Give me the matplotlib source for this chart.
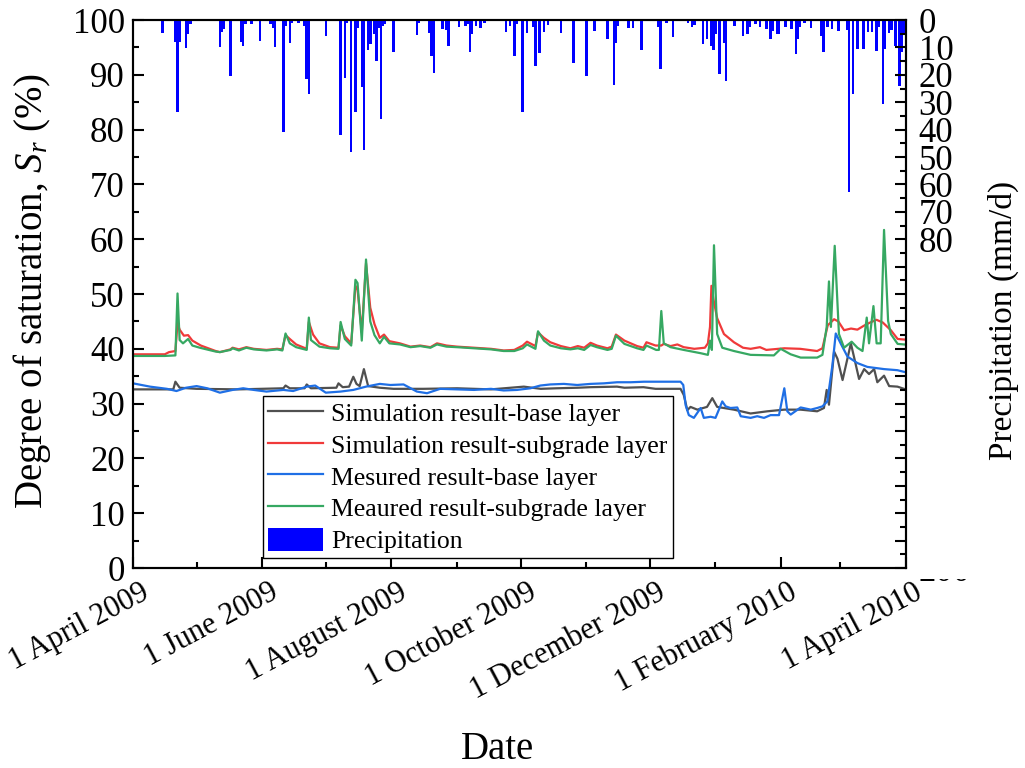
import numpy as np
import matplotlib.pyplot as plt
import matplotlib.dates as mdates
from matplotlib.ticker import MultipleLocator, FixedLocator, FixedFormatter
from matplotlib.patches import Patch, Rectangle
from matplotlib.transforms import ScaledTranslation

plt.rcParams['font.family'] = ['Liberation Serif', 'DejaVu Serif']
plt.rcParams['mathtext.fontset'] = 'custom'
plt.rcParams['mathtext.rm'] = 'Liberation Serif'
plt.rcParams['mathtext.it'] = 'Liberation Serif:italic'

# day numbers are counted from 1 April 2009
start = np.datetime64('2009-04-01')
end = np.datetime64('2010-04-01')

sim_base_day = [0, 19, 20, 22, 30, 50, 71, 72, 74, 81, 82, 84, 96, 97, 99, 102, 104, 105.5, 107, 109, 111,
                116.5, 123, 137, 153, 169, 184.5, 192.5, 200, 210, 216, 228.5, 232, 241, 246.7, 258.5, 260,
                261.7, 263.2, 266.4, 271, 273.5, 275.8, 283.7, 291.6, 299.5, 307.4, 315.2, 323, 326.2, 327.5,
                328.6, 331, 332.6, 335, 337.3, 338.9, 340.4, 342.8, 345.2, 347.5, 349.9, 351.4, 354.6, 357,
                360.9, 364]
sim_base = [32.6, 32.6, 34.0, 32.9, 32.7, 32.6, 32.8, 33.3, 32.8, 32.8, 33.5, 32.8, 32.9, 33.7, 33.0, 33.1,
            34.9, 33.6, 33.2, 36.3, 33.2, 32.9, 32.7, 32.7, 32.8, 32.6, 33.1, 32.7, 32.8, 32.9, 33.0, 33.1,
            32.9, 33.0, 32.7, 32.7, 31.6, 28.8, 29.4, 28.9, 29.4, 31.0, 29.4, 28.9, 28.2, 28.6, 28.9, 28.9,
            28.6, 29.2, 32.5, 29.8, 39.5, 38.2, 34.3, 38.2, 41.0, 38.5, 34.5, 36.3, 35.4, 36.3, 33.9, 35.1,
            33.2, 33.1, 32.7]

sim_sub_day = [0, 15, 17, 20, 21, 22, 24, 26, 28, 32, 39, 41, 46, 47, 50, 53.5, 57, 63, 68, 70.5, 72, 74, 77,
               82, 83, 85, 88, 93, 97, 98, 100, 103, 105, 106, 108, 110, 112, 114, 116.5, 118.5, 121, 126,
               131, 135.6, 140.4, 143.5, 148, 153, 161, 169, 175, 180, 184, 186, 190, 191.2, 194, 197, 202,
               206.5, 210, 213, 216, 219, 224, 226, 228, 232, 238, 241, 242.4, 246.7, 249.4, 250.6, 253.8,
               257, 260, 265, 270, 271.4, 272.4, 273.1, 274.3, 275.8, 279, 283.7, 288, 291.6, 296, 299,
               307.5, 315, 323, 325.5, 328, 331, 333, 335.7, 339, 342, 345, 348, 351, 354, 357.8, 361, 364]
sim_sub = [39.0, 39.0, 39.4, 39.6, 44.7, 43.5, 42.4, 42.5, 41.5, 40.6, 39.6, 39.4, 39.9, 40.2, 39.9, 40.3,
           40.0, 39.8, 40.0, 39.9, 42.5, 41.8, 40.8, 40.0, 44.9, 42.6, 41.0, 40.3, 40.2, 44.3, 42.3, 41.0,
           51.5, 50.8, 43.0, 55.6, 47.5, 44.5, 42.0, 42.6, 41.4, 41.0, 40.4, 40.6, 40.3, 41.0, 40.6, 40.4,
           40.2, 40.0, 39.7, 39.8, 40.6, 41.3, 40.5, 43.0, 42.0, 41.2, 40.5, 40.1, 40.5, 40.2, 41.1, 40.6,
           40.1, 40.4, 42.6, 41.5, 40.5, 40.2, 41.2, 40.6, 40.6, 40.9, 40.5, 40.8, 40.3, 40.0, 40.2, 41.0,
           44.0, 51.5, 48.5, 45.6, 42.7, 41.2, 40.2, 40.0, 40.3, 39.8, 40.1, 40.0, 39.6, 40.1, 44.3, 45.4,
           45.0, 43.4, 43.7, 43.5, 44.2, 44.8, 45.3, 44.8, 43.4, 41.8, 41.7]

meas_base_day = [0, 8, 16, 20.5, 25, 30, 35, 41, 47, 52, 57, 63, 71, 75.6, 82, 86, 91, 98, 104, 110, 116.5,
                 121.5, 127.7, 134, 138.8, 145, 153, 161, 169, 175, 181.3, 187.6, 192.3, 197, 203.4, 209.7,
                 216, 222.3, 228.6, 235, 241.2, 246.7, 258.5, 259.8, 260.9, 262.4, 264.8, 268, 269.5, 272.7,
                 275, 278.2, 279.8, 282.1, 285.3, 286.9, 291.6, 294.7, 297.9, 301, 305, 307.5, 308.9, 310.5,
                 315.2, 320, 323, 325.5, 327.8, 330.2, 331.8, 334.1, 337.3, 342, 346.7, 354.6, 360.9, 364]
meas_base = [33.7, 33.1, 32.7, 32.3, 32.9, 33.2, 32.8, 32.0, 32.5, 32.8, 32.5, 32.2, 32.5, 32.3, 33.1, 33.3,
             32.0, 32.2, 32.5, 33.1, 33.6, 33.4, 33.5, 32.2, 31.9, 32.7, 32.6, 32.5, 32.7, 32.4, 32.5, 32.8,
             33.3, 33.5, 33.6, 33.4, 33.6, 33.7, 33.9, 33.9, 34.0, 34.0, 34.0, 33.4, 29.7, 27.9, 27.4, 29.2,
             27.4, 27.6, 27.4, 30.4, 29.5, 29.2, 29.3, 27.7, 27.4, 27.7, 27.4, 27.9, 27.9, 32.8, 28.6, 28.0,
             29.3, 28.9, 29.2, 29.5, 30.4, 37.0, 42.8, 41.0, 38.6, 37.4, 36.7, 36.3, 36.1, 35.8]

meas_sub_day = [0, 15, 20, 21, 22, 23.6, 26, 28, 31.5, 39, 41, 46, 47, 50, 53.5, 57, 63, 68, 70.5, 72, 74,
                77, 82, 83, 84, 88, 93, 97, 98, 100, 103, 105, 106, 108, 110, 112, 114, 116.5, 118.5, 121,
                126, 131, 135.6, 140.4, 143.5, 148, 153, 161, 169, 175, 180, 184, 186, 190, 191.2, 194, 197,
                202, 206.5, 210, 213, 216, 219, 224, 226, 228, 232, 238, 241, 242.4, 247, 248.3, 249.4,
                250.6, 253.8, 260, 268, 271.4, 272.4, 273.3, 274.3, 275.8, 278.2, 283.7, 291.6, 302.6,
                305.8, 310.5, 315.2, 323, 325.5, 327.5, 328.6, 329.5, 331.3, 333.3, 335.7, 339.3, 342,
                344.4, 346.4, 347.5, 349.6, 351.1, 353, 354.6, 356.5, 357.8, 361, 364]
meas_sub = [38.7, 38.7, 38.8, 50.1, 41.6, 41.0, 41.8, 40.6, 40.2, 39.5, 39.4, 39.8, 40.1, 39.7, 40.2, 39.9,
            39.7, 39.9, 39.7, 42.8, 41.0, 40.3, 39.8, 45.7, 41.6, 40.4, 40.1, 40.0, 44.9, 41.8, 40.6, 52.6,
            52.0, 41.5, 56.3, 45.0, 42.5, 41.0, 42.2, 41.0, 40.8, 40.3, 40.5, 40.2, 40.8, 40.4, 40.3, 40.1,
            39.9, 39.6, 39.6, 40.1, 40.8, 40.0, 43.2, 41.5, 40.6, 40.1, 39.9, 40.1, 39.8, 40.7, 40.3, 39.8,
            40.0, 42.4, 40.9, 40.1, 39.8, 40.6, 39.8, 39.8, 46.9, 41.0, 40.3, 39.8, 39.2, 38.9, 41.5, 39.8,
            58.9, 42.7, 40.2, 39.6, 38.9, 38.8, 40.0, 39.0, 38.4, 38.4, 38.9, 44.0, 52.3, 44.0, 58.8, 42.7,
            40.2, 41.3, 40.2, 39.6, 45.7, 41.0, 47.8, 41.0, 41.0, 61.7, 45.1, 42.7, 40.9, 40.8]

rain_day = [14, 20, 21, 22, 25, 26, 27, 41, 42, 43, 46, 51, 52, 53, 56, 60, 65, 66, 67, 71, 72, 74, 75, 78,
            81, 82, 83, 91, 98, 100, 101, 103, 105, 106, 108, 109, 111, 112, 114, 115, 116, 117, 118, 119,
            123, 134, 135, 140, 141, 142, 146, 148, 149, 154, 157, 158, 159, 160, 162, 164, 166, 176, 178,
            180, 181, 184, 186, 189, 190, 192, 194, 196, 202, 208, 214, 218, 224, 227, 228, 229, 234, 236,
            240, 248, 249, 252, 255, 262, 264, 265, 269, 271, 273, 274, 275, 277, 279, 280, 284, 288, 290,
            291, 294, 296, 299, 301, 302, 304, 305, 308, 311, 313, 314, 315, 317, 320, 325, 326, 328, 330,
            333, 337, 338, 340, 342, 345, 347, 349, 351, 352, 354, 355, 357, 358, 360, 362, 363, 364]
rain_mm = [4.9, 8, 33.7, 8, 10.3, 5, 1.5, 10, 4.5, 3.3, 20.3, 8, 9.4, 1.5, 1.5, 7.6, 1.5, 3, 10, 40.8, 2,
           8.4, 1, 1.1, 2, 21.5, 27, 6, 41.9, 21.3, 1, 48.3, 33.4, 3, 24.3, 47.3, 10.8, 8.8, 5, 14.8, 3,
           36.1, 2, 1.5, 11.8, 5.5, 1, 4.9, 13, 19.3, 3.3, 3.5, 9.4, 2.7, 2, 1.5, 11.8, 5, 2, 3, 1, 4.5, 2,
           13, 1.5, 33.7, 4.8, 2.5, 16.7, 12.2, 4.5, 1.7, 4.9, 15.5, 20.3, 3.9, 6.9, 23.7, 8.2, 2, 3, 3,
           10.9, 2.7, 17.9, 1, 6.3, 1, 2.7, 1.8, 8.8, 6.9, 9.4, 11, 5, 19.7, 8.2, 22.1, 2, 6, 5, 2.7, 1.5,
           2.7, 3.3, 6.9, 4, 5, 5, 2.7, 3.3, 12.4, 7, 2.7, 1, 3, 6, 11.8, 2.7, 3.3, 4, 3.8, 62.7, 27, 10.6,
           10.6, 4.3, 4.5, 11.2, 2.7, 30.7, 10.6, 4.7, 3.8, 9.4, 24, 11.8, 5.6]

series_labels = ['Simulation result-base layer', 'Simulation result-subgrade layer',
                 'Mesured result-base layer', 'Meaured result-subgrade layer']
series_colors = ['#505050', '#f03a3a', '#1f6fe5', '#36a862']


def to_dates(days):
    return start + np.round(np.asarray(days) * 24).astype('timedelta64[h]')


fig = plt.figure(figsize=(10.25, 7.68), dpi=100)
ax = fig.add_axes([0.1298, 0.2604, 0.7542, 0.7135])
ax2 = ax.twinx()

lines = []
for d, v, lab, c in zip([sim_base_day, sim_sub_day, meas_base_day, meas_sub_day],
                        [sim_base, sim_sub, meas_base, meas_sub], series_labels, series_colors):
    ln, = ax.plot(to_dates(d), v, color=c, lw=1.6, label=lab)
    lines.append(ln)

ax2.bar(to_dates(rain_day), rain_mm, width=1.2, color='blue', linewidth=0)

# left axis: saturation
ax.set_xlim(start, end)
ax.set_ylim(0, 100)
ax.yaxis.set_major_locator(MultipleLocator(10))
ax.yaxis.set_minor_locator(MultipleLocator(5))
ax.xaxis.set_major_locator(mdates.MonthLocator(bymonth=[2, 4, 6, 8, 10, 12]))
ax.xaxis.set_minor_locator(mdates.MonthLocator())
ax.xaxis.set_major_formatter(mdates.DateFormatter('%-d %B %Y'))
ax.tick_params(axis='both', which='both', direction='in', width=1.5)
ax.tick_params(axis='both', which='major', length=8)
ax.tick_params(axis='both', which='minor', length=4)
ax.tick_params(axis='y', labelsize=25, pad=6)
ax.tick_params(axis='x', labelsize=22, pad=7)
shift = ScaledTranslation(0.07, 0, fig.dpi_scale_trans)
for lbl in ax.get_xticklabels():
    lbl.set_rotation(28)
    lbl.set_ha('right')
    lbl.set_rotation_mode('anchor')
    lbl.set_transform(lbl.get_transform() + shift)

# right axis: precipitation, drawn downward from the top
ax2.set_ylim(200, 0)
rain_ticks = list(range(0, 201, 10))
ax2.yaxis.set_major_locator(FixedLocator(rain_ticks))
ax2.yaxis.set_major_formatter(FixedFormatter([str(t) if t <= 80 or t == 200 else '' for t in rain_ticks]))
ax2.yaxis.set_minor_locator(MultipleLocator(5))
ax2.tick_params(axis='y', which='both', direction='in', width=1.5, labelsize=25, pad=9)
ax2.tick_params(axis='y', which='major', length=8)
ax2.tick_params(axis='y', which='minor', length=4)

for a in (ax, ax2):
    for s in a.spines.values():
        s.set_linewidth(1.5)

ax.set_xlabel('Date', fontsize=28)
ax.xaxis.set_label_coords(0.471, -0.298)
ax.set_ylabel(r'Degree of saturation, $S_r$ (%)', fontsize=28)
ax.yaxis.set_label_coords(-0.104, 0.505)
ax2.set_ylabel('Precipitation (mm/d)', fontsize=24)
ax2.yaxis.set_label_coords(1.105, 0.4526)

handles = lines + [Patch(facecolor='blue', edgecolor='none')]
labels = series_labels + ['Precipitation']
leg = ax2.legend(handles, labels, loc='lower left', bbox_to_anchor=(0.168, 0.018), borderaxespad=0,
                 fontsize=18.5, handlelength=2.15, handleheight=1.0, handletextpad=0.3,
                 labelspacing=0.25, borderpad=0.2, fancybox=False, edgecolor='black', framealpha=1)
leg.get_frame().set_linewidth(1.0)

# the 200 label sits mostly under a blank strip
fig.patches.append(Rectangle((912 / 1025, 189 / 768), 63 / 1025, 30 / 768, transform=fig.transFigure,
                             facecolor='white', edgecolor='none', zorder=10))

fig.savefig('out.png', dpi=100)
